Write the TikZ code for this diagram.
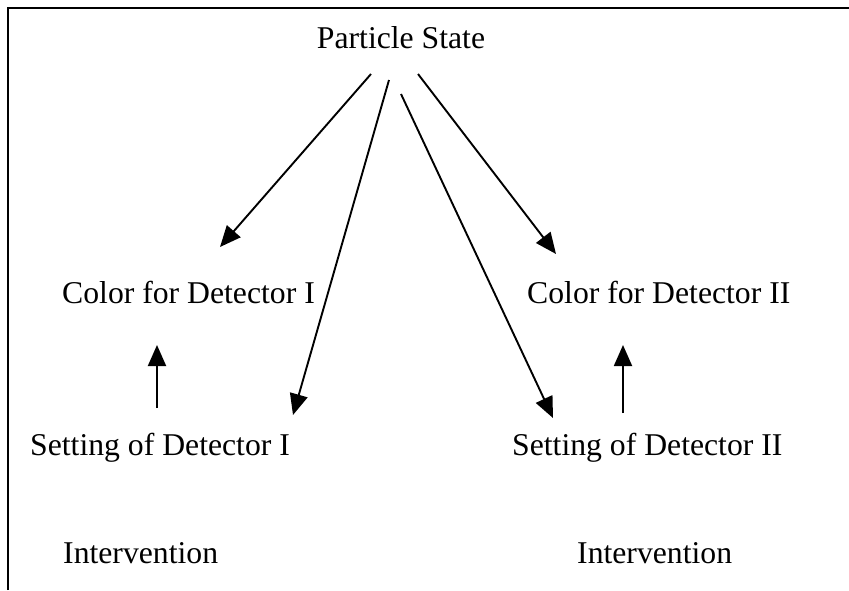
\documentclass[tikz,border=0pt]{standalone}
\usepackage{fontspec}
\setmainfont{Liberation Serif}
\usetikzlibrary{arrows.meta}
\begin{document}
\begin{tikzpicture}[x=1pt,y=-1pt,
  lbl/.style={anchor=base west,inner sep=0pt,font=\fontsize{31.7}{36}\selectfont},
  arr/.style={line width=1.9pt,-{Triangle[length=21pt,width=18pt]}},
  frame/.style={line width=2.6pt}]
\useasboundingbox (0,0) rectangle (849,590);
\draw[frame] (8,590) -- (8,8) -- (850,8);
\node[lbl,anchor=base] (ps) at (401,48) {Particle State};
\node[lbl] (c1) at (62,303) {Color for Detector I};
\node[lbl] (c2) at (527,303) {Color for Detector II};
\node[lbl] (s1) at (30,455) {Setting of Detector I};
\node[lbl] (s2) at (512,455) {Setting of Detector II};
\node[lbl] (i1) at (63,563) {Intervention};
\node[lbl] (i2) at (577,563) {Intervention};
\coordinate (a1) at (371,74);
\coordinate (b1) at (220,247);
\coordinate (a2) at (389,80);
\coordinate (b2) at (293,415);
\coordinate (a3) at (401,94);
\coordinate (b3) at (553,418);
\coordinate (a4) at (418,74);
\coordinate (b4) at (556,254);
\coordinate (u1) at (157,408);
\coordinate (v1) at (157,345);
\coordinate (u2) at (623,413);
\coordinate (v2) at (623,345);
\draw[arr] (a1) -- (b1);
\draw[arr] (a2) -- (b2);
\draw[arr] (a3) -- (b3);
\draw[arr] (a4) -- (b4);
\draw[arr] (u1) -- (v1);
\draw[arr] (u2) -- (v2);
\end{tikzpicture}
\end{document}
